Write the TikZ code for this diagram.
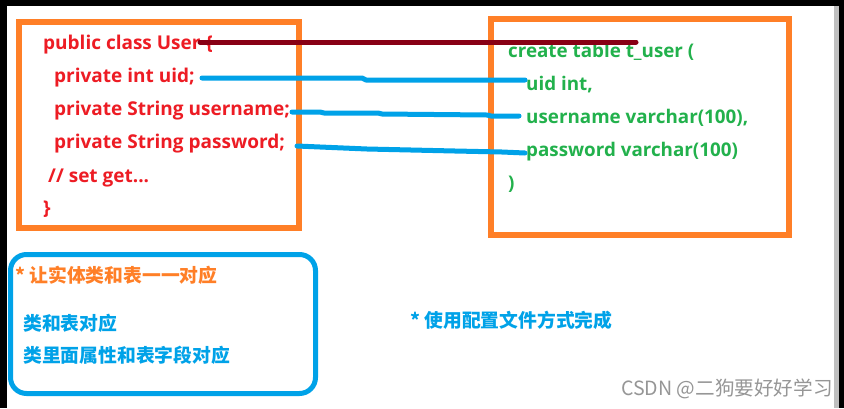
\documentclass[tikz,border=0pt]{standalone}
\usepackage{fontspec}
\setmainfont{Open Sans}
\newfontfamily\codefont{Open Sans}
\newfontfamily\cjk{Noto Sans CJK SC}
\definecolor{paintorange}{RGB}{255,127,39}
\definecolor{paintblue}{RGB}{0,162,232}
\definecolor{paintdarkred}{RGB}{136,0,21}
\definecolor{paintred}{RGB}{237,28,36}
\definecolor{paintgreen}{RGB}{34,177,76}
\definecolor{wmgray}{RGB}{150,150,150}
\begin{document}
\begin{tikzpicture}[x=1pt,y=-1pt,
  java/.style={anchor=base west,inner sep=0pt,text=paintred,font=\codefont\bfseries\fontsize{19}{21}\selectfont},
  sql/.style={anchor=base west,inner sep=0pt,text=paintgreen,font=\codefont\bfseries\fontsize{18.8}{21}\selectfont},
  cjknote/.style={anchor=west,inner sep=0pt,font=\cjk\bfseries\fontsize{18.8}{20}\selectfont},
  framebox/.style={draw=paintorange,line width=6pt},
  noteframe/.style={draw=paintblue,line width=5pt,rounded corners=16pt},
  mapline/.style={draw=paintblue,line width=5pt,line cap=round,line join=round},
  classline/.style={draw=paintdarkred,line width=5pt,line cap=round}]
\useasboundingbox (0,0) rectangle (844,408);
% screenshot background and borders
\fill[white] (0,0) rectangle (844,408);
\fill[black] (0,0) rectangle (844,6);
\fill[black] (0,0) rectangle (7,408);
\fill[black!25] (834,6) rectangle (839,408);
\fill[black] (839,0) rectangle (844,408);
% frames
\draw[framebox] (19,22) rectangle (299,228);
\draw[framebox] (490.5,19) rectangle (788.5,235);
\draw[noteframe] (10.5,254.5) rectangle (315.5,393.5);
% java class
\node[java] (j1) at (43,49) {public class User \{};
\node[java] (j2) at (54,82) {private int uid;};
\node[java] (j3) at (54,115) {private String username;};
\node[java] (j4) at (54,148) {private String password;};
\node[java] (j5) at (48,182) {// set get...};
\node[java] (j6) at (43,214) {\}};
% sql table
\node[sql] (s1) at (508,57) {create table t\_user (};
\node[sql] (s2) at (526,90) {uid int,};
\node[sql] (s3) at (526,123) {username varchar(100),};
\node[sql] (s4) at (526,156) {password varchar(100)};
\node[sql] (s5) at (508,189) {)};
% notes
\node[cjknote,text=paintorange] (n1) at (15,275) {* 让实体类和表一一对应};
\node[cjknote,text=paintblue] (n2) at (23,323) {类和表对应};
\node[cjknote,text=paintblue] (n3) at (23,355) {类里面属性和表字段对应};
\node[cjknote,text=paintblue] (n4) at (410,320) {* 使用配置文件方式完成};
\node[anchor=west,inner sep=0pt,text=wmgray,font=\cjk\fontsize{19.6}{21}\selectfont] (wm) at (621,389) {CSDN @二狗要好好学习};
% connector end points
\coordinate (c1a) at (200,42);
\coordinate (c1b) at (636,42);
\coordinate (c2a) at (202,78);
\coordinate (c2b) at (525,80);
\coordinate (c3a) at (292,112);
\coordinate (c3b) at (519,116);
\coordinate (c4a) at (297,146);
\coordinate (c4b) at (525,153);
% connectors
\draw[classline] (c1a) -- (c1b);
\draw[mapline] (c2a) -- (362,78) -- (366,80) -- (c2b);
\draw[mapline] (c3a) -- (320,112) -- (324,113) -- (378,113) -- (382,114) -- (487,115) -- (491,116) -- (c3b);
\draw[mapline] (c4a) -- (320,147) -- (367,149) -- (455,151) -- (502,152) -- (c4b);
\end{tikzpicture}
\end{document}
